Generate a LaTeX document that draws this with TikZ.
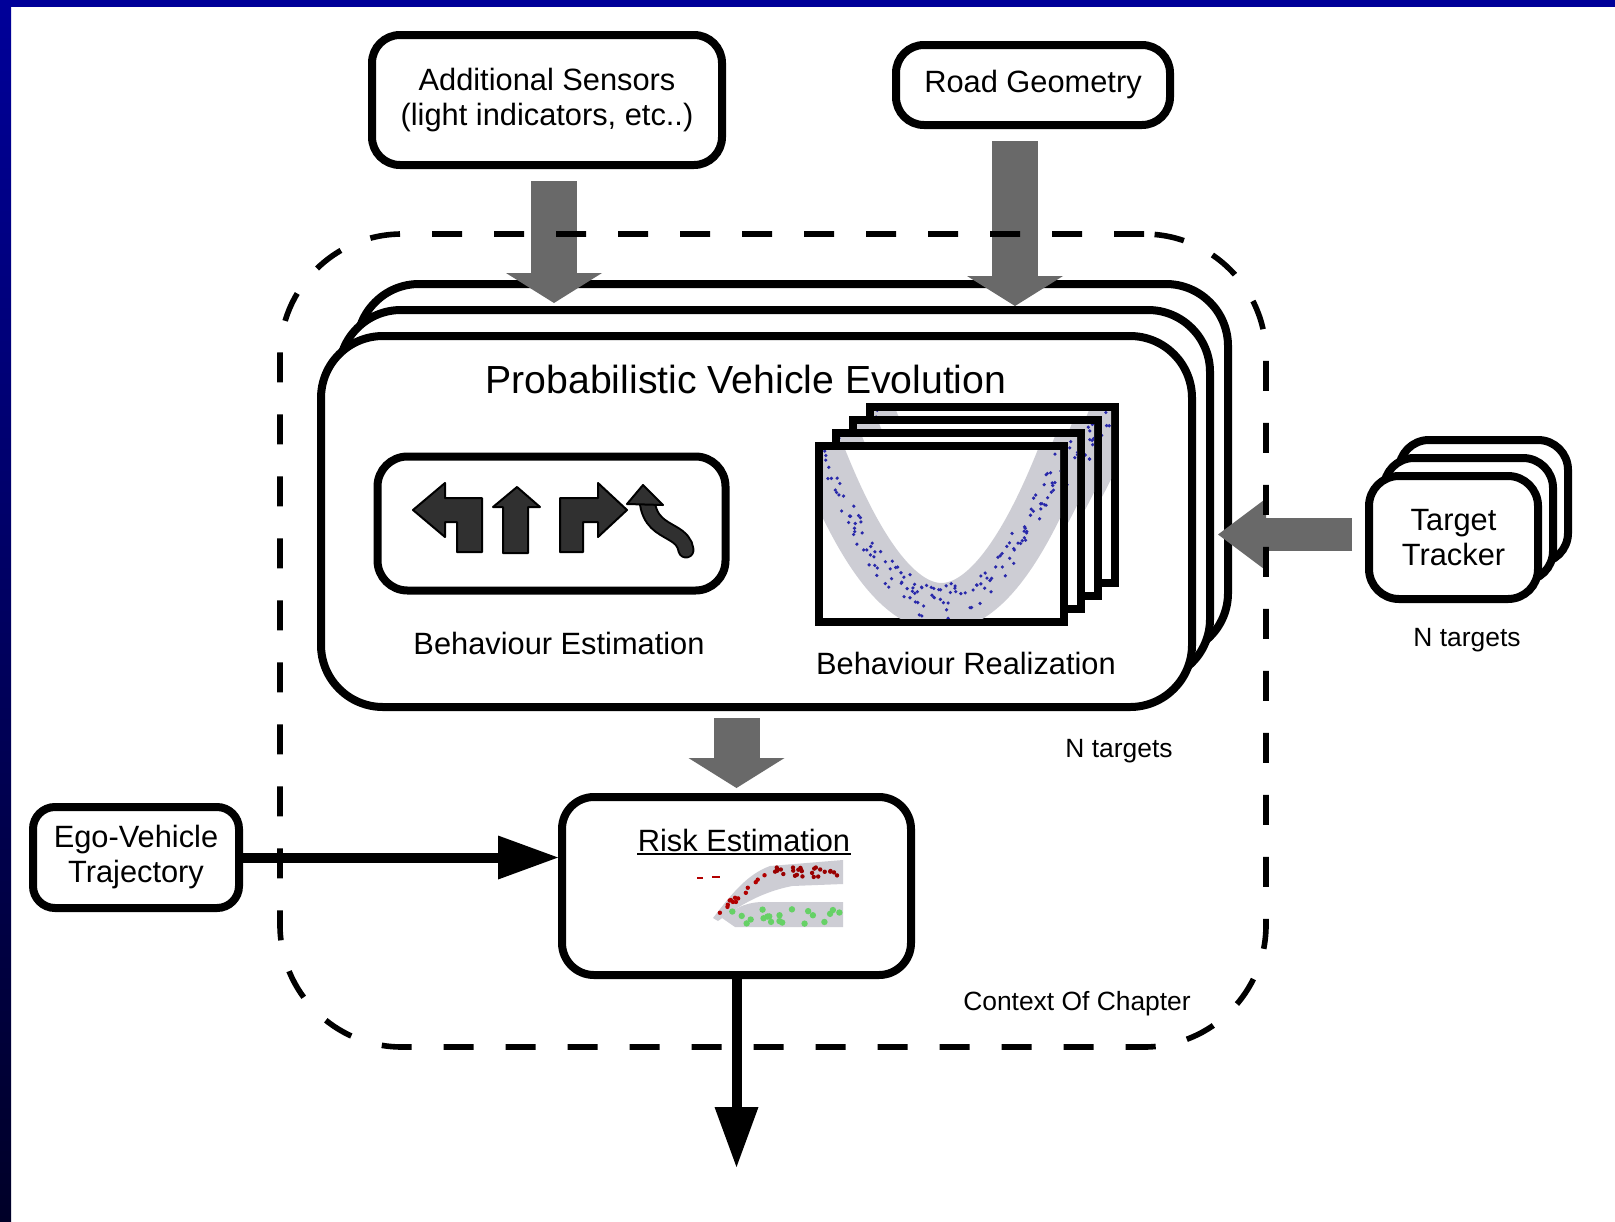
\documentclass[tikz,border=0pt]{standalone}
\usepackage{fontspec}
\setmainfont{Liberation Sans}
\usetikzlibrary{arrows.meta}

\definecolor{frameblue}{RGB}{0,0,153}
\definecolor{darkblue}{RGB}{0,0,40}
\definecolor{arrowgray}{RGB}{105,105,105}
\definecolor{icongray}{RGB}{48,48,48}
\definecolor{bandgray}{RGB}{205,205,212}
\definecolor{dotblue}{RGB}{40,40,170}

\tikzset{
  box/.style={draw, line width=4pt, rounded corners=14pt, fill=white, outer sep=0pt,
    inner sep=0pt, align=center, font=\fontsize{15.4}{17.5}\selectfont},
  frame/.style={draw, line width=4pt, fill=white, outer sep=0pt, inner sep=0pt,
    minimum width=122.5pt, minimum height=88pt},
  lbl/.style={inner sep=0pt, font=\fontsize{15.4}{17.5}\selectfont},
  smalllbl/.style={inner sep=0pt, font=\fontsize{13.2}{15}\selectfont},
  grayarrow/.style={draw=arrowgray, line width=23pt,
    -{Triangle[length=15pt, width=48pt, line width=0pt 0 0]}},
  thinarrow/.style={draw=arrowgray, line width=16.5pt,
    -{Triangle[length=24pt, width=36pt, line width=0pt 0 0]}},
  blackarrow/.style={line width=5pt, -{Triangle[length=30pt, width=22pt, line width=0pt 0 0]}},
  icon/.style={fill=icongray, draw=black, line width=1pt, line join=round},
}

\begin{document}
\begin{tikzpicture}[x=0.5pt, y=-0.5pt]
  % page with the blue frame
  \useasboundingbox (0,0) rectangle (1615,1221);
  \fill[white] (0,0) rectangle (1615,1221);
  \shade[top color=frameblue, bottom color=darkblue] (0,0) rectangle (11,1221);
  \fill[frameblue] (0,0) rectangle (1615,7);

  % inputs
  \node[box, minimum width=175pt, minimum height=65pt] (sens) at (547,100)
    {Additional Sensors\\(light indicators, etc..)};
  \node[box, minimum width=137pt, minimum height=40pt] (road) at (1033,85) {Road Geometry};
  \node[box, rounded corners=11pt, minimum width=103pt, minimum height=50.5pt] (ego) at (136,857.5)
    {Ego-Vehicle\\Trajectory};

  % target tracker, one per target
  \node[box, rounded corners=15pt, minimum width=84.5pt, minimum height=61.5pt] (tt2) at (1483.5,501.5) {};
  \node[box, rounded corners=15pt, minimum width=84.5pt, minimum height=61.5pt] (tt1) at (1468.5,519.5) {};
  \node[box, rounded corners=15pt, minimum width=84.5pt, minimum height=61.5pt] (tt) at (1453.5,537.5)
    {Target\\Tracker};
  \node[smalllbl] (ttn) at (1467,640) {N targets};

  % vehicle evolution stack
  \node[box, rounded corners=31pt, minimum width=435.5pt, minimum height=185.5pt] (pve2) at (792.5,469.5) {};
  \node[box, rounded corners=31pt, minimum width=435.5pt, minimum height=185.5pt] (pve1) at (774.5,495.5) {};
  \node[box, rounded corners=31pt, minimum width=435.5pt, minimum height=185.5pt] (pve) at (756.5,521.5) {};
  \node[inner sep=0pt, font=\fontsize{19.6}{22}\selectfont] (pvetitle) at (746,379)
    {Probabilistic Vehicle Evolution};

  % behaviour estimation with the turn icons
  \node[box, rounded corners=15pt, minimum width=174pt, minimum height=67pt] (est) at (551.5,523.5) {};
  \node[lbl] (estlbl) at (559,643) {Behaviour Estimation};
  \draw[icon] (413,510) -- (445,483) -- (445,498) -- (482,498) -- (482,552) -- (457,552)
    -- (457,522) -- (445,522) -- (445,537) -- cycle;
  \draw[icon] (517,487) -- (540,507) -- (528,507) -- (528,553) -- (503,553) -- (503,507)
    -- (493,507) -- cycle;
  \draw[icon] (627,510) -- (598,483) -- (598,498) -- (560,498) -- (560,552) -- (583,552)
    -- (583,522) -- (598,522) -- (598,537) -- cycle;
  \draw[line width=8.5pt, line cap=round] (647,500) .. controls (649,522) and (662,527) .. (672,533)
    .. controls (681,538) and (685,543) .. (686,550);
  \draw[line width=6.5pt, icongray, line cap=round] (647,500) .. controls (649,522) and (662,527) .. (672,533)
    .. controls (681,538) and (685,543) .. (686,550);
  \draw[icon] (643,485) -- (663,505) -- (627,504) -- cycle;

  % behaviour realization, one frame per sample set
  \pgfmathsetseed{11}
  \foreach \k in {3,2,1,0} {
    \node[frame] (real\k) at ({941.5+17*\k},{534-13*\k}) {};
    \begin{scope}[shift={(real\k.center)}]
      \clip (-118.5,-84) rectangle (118.5,84);
      \draw[bandgray, line width=24pt] (-136,-122) .. controls (-45,138) and (45,138) .. (136,-122);
      \foreach \i in {1,...,170} {
        \pgfmathsetmacro{\u}{2.5*rnd-1.25}
        \pgfmathsetmacro{\px}{110*\u}
        \pgfmathsetmacro{\py}{68-125*\u*\u+36*rnd-18}
        \fill[dotblue] (\px,\py) circle (0.9pt);
      }
    \end{scope}
  }
  \node[lbl] (reallbl) at (966,663) {Behaviour Realization};

  % risk estimation
  \node[box, rounded corners=16pt, minimum width=174.5pt, minimum height=89pt] (risk) at (736.5,886) {};
  \node[lbl] (risklbl) at (744,840) {Risk Estimation};
  \draw[line width=1pt] ([yshift=-1pt]risklbl.south west) -- ([yshift=-1pt]risklbl.south east);
  \fill[bandgray] (713,918) .. controls (733,892) and (748,874) .. (770,866) -- (843,860)
    -- (843,884) -- (792,886) .. controls (762,892) and (740,905) .. (718,921) -- cycle;
  \fill[bandgray] (722,918) .. controls (735,908) and (745,903) .. (760,902) -- (843,902)
    -- (843,927) -- (735,927) -- cycle;
  \foreach \i in {1,...,14} {
    \pgfmathsetmacro{\t}{rnd}
    \fill[red!70!black] ({717+53*\t},{913-42*\t+8*rnd-4}) circle (1.1pt);
  }
  \foreach \i in {1,...,26} {
    \fill[red!60!black] ({770+70*rnd},{872+10*rnd-5}) circle (1.1pt);
  }
  \foreach \i in {1,...,20} {
    \fill[green!70!black!60] ({730+110*rnd},{908+16*rnd}) circle (1.6pt);
  }
  \draw[red!70!black, line width=0.8pt] (697,878) -- (703,878) (712,877) -- (720,877);

  % connectors
  \draw[grayarrow] ([xshift=3.5pt,yshift=-8pt]sens.south) -- ([xshift=3.5pt,yshift=3.5pt]sens.south |- pve1.north);
  \draw[grayarrow] ([xshift=-9pt,yshift=-8pt]road.south) -- ([xshift=-9pt,yshift=2pt]road.south |- pve1.north);
  \draw[thinarrow] ([xshift=-8.5pt,yshift=1.5pt]tt.west) -- ([xshift=4pt,yshift=1.5pt]tt.west -| pve1.east);
  \draw[grayarrow] ([yshift=-5.5pt]pve.south -| risk.north) -- ([yshift=4.5pt]risk.north);
  \draw[blackarrow] (ego.east) -- ([xshift=-2pt]ego.east -| risk.west);
  \coordinate (out) at (740,1167);
  \draw[blackarrow] (risk.south) -- (risk.south |- out);

  % context of the chapter
  \node[draw, line width=2.8pt, dash pattern=on 15pt off 16pt, rounded corners=61pt, outer sep=0pt,
    minimum width=493pt, minimum height=406.5pt] (ctx) at (773,640.5) {};
  \node[smalllbl] (ctxlbl) at (1077,1004) {Context Of Chapter};
  \node[smalllbl] (pven) at (1119,751) {N targets};
\end{tikzpicture}
\end{document}
